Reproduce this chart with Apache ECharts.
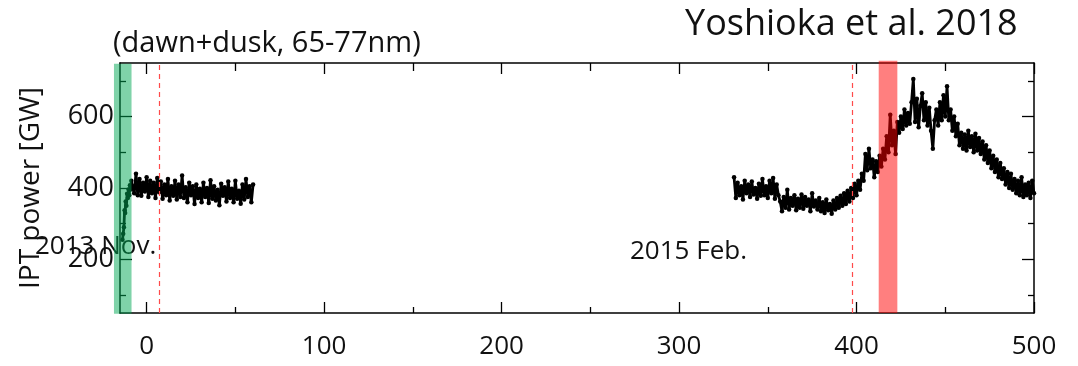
<!DOCTYPE html>
<html>
<head>
<meta charset="utf-8">
<script src="https://cdn.jsdelivr.net/npm/echarts@6/dist/echarts.min.js"></script>
<style>html,body{margin:0;padding:0;background:#fff;}#c{width:1078px;height:366px;}</style>
</head>
<body>
<div id="c"></div>
<script>
// ---- data ----
const xMajorTicks = [0, 100, 200, 300, 400, 500];
const xMinorTicks = [50, 150, 250, 350, 450];
const yMajorTicks = [200, 400, 600];
const yMinorTicks = [100, 300, 500, 700];

// early ramp inside the green band: [day, GW]
const rampDays = [-13.6, -13.2, -12.8, -12.4, -12.1, -11.8, -11.4, -11.0, -10.6, -10.2, -9.8, -9.4, -9.0, -8.6];
const rampVals = [255, 272, 290, 338, 330, 362, 350, 384, 372, 396, 380, 408, 396, 420];

// 2013 Nov. segment: one value per day starting at day -8
const segAStart = -8;
const segAVals = [405,385,440,380,425,378,415,390,430,375,420,385,415,372,428,388,418,370,410,380,
  425,365,405,378,420,368,410,375,435,372,402,360,415,380,405,355,410,372,398,360,
  415,375,400,358,422,370,405,365,395,352,412,378,402,362,418,372,398,360,420,370,
  392,356,410,368,425,375,405,360,410];

// 2015 segment: one value per day starting at day 331
const segBStart = 331;
const segBVals = [430,372,415,380,405,368,420,385,410,375,418,382,400,370,412,378,425,380,405,372,
  420,385,428,370,410,380,362,335,375,345,395,340,372,350,380,338,370,345,382,342,
  375,350,368,335,385,348,365,340,372,335,360,330,368,338,355,328,365,340,372,345,
  378,350,385,355,392,362,400,372,412,380,420,395,440,420,495,450,510,455,480,430,
  475,445,490,460,510,480,545,500,605,520,560,495,585,555,600,565,620,575,610,580,
  640,705,585,650,570,630,665,590,640,575,625,560,510,590,620,575,640,590,660,600,
  685,590,620,560,600,545,580,520,555,510,550,505,560,515,545,500,552,505,540,495,
  530,480,520,470,505,455,490,445,480,430,470,425,455,410,445,400,440,395,425,385,
  420,380,430,375,410,380,415,372,420,385];

// events
const dashedDays = [7.3, 397.5];
const bands = [
  // [from day, to day, bottom GW, top GW, colour]
  [-18.4, -8.5, 48, 748, 'rgba(0,168,84,0.5)'],
  [412.5, 423.0, 50, 756, 'rgba(255,0,0,0.5)']
];

// ---- build ----
function build(start, vals){ return vals.map((v,i)=>[start+i, v]); }
const lineA = rampDays.map((d,i)=>[d, rampVals[i]]).concat(build(segAStart, segAVals));
const lineB = build(segBStart, segBVals);

const FONT = 'Open Sans';
const chart = echarts.init(document.getElementById('c'), null, {renderer:'canvas'});

const frameLine = {show:true, onZero:false, lineStyle:{color:'#000', width:1.5}};
const noLine = {show:false, onZero:false};
function xAx(pos, ticks, len, labels, line){
  return {type:'value', min:-15, max:500, position:pos,
    axisLine: line ? frameLine : noLine,
    axisTick:{show:true, inside:true, length:len, customValues:ticks, lineStyle:{color:'#000', width:1.3}},
    axisLabel: labels ? {show:true, customValues:ticks, fontFamily:FONT, fontSize:26, color:'#111', margin:21} : {show:false},
    splitLine:{show:false}};
}
function yAx(pos, ticks, len, labels, line){
  return {type:'value', min:50, max:750, position:pos,
    axisLine: line ? frameLine : noLine,
    axisTick:{show:true, inside:true, length:len, customValues:ticks, lineStyle:{color:'#000', width:1.3}},
    axisLabel: labels ? {show:true, customValues:ticks, fontFamily:FONT, fontSize:27, color:'#111', margin:6} : {show:false},
    splitLine:{show:false}};
}

const dataLine = {type:'line', xAxisIndex:0, yAxisIndex:0, z:2, symbol:'circle', symbolSize:4.5, showSymbol:true,
  itemStyle:{color:'#000'}, lineStyle:{color:'#000', width:2.8}, silent:true};

chart.setOption({
  animation:false,
  backgroundColor:'#fff',
  grid:{left:120, right:44, top:63, bottom:53},
  xAxis:[
    xAx('bottom', xMajorTicks, 11, true, true),
    xAx('bottom', xMinorTicks, 6, false, false),
    xAx('top', xMajorTicks, 11, false, true),
    xAx('top', xMinorTicks, 8, false, false)
  ],
  yAxis:[
    yAx('left', yMajorTicks, 12, true, true),
    yAx('left', yMinorTicks, 6, false, false),
    yAx('right', yMajorTicks, 12, false, true),
    yAx('right', yMinorTicks, 6, false, false)
  ],
  graphic:[
    {type:'text', z:0, left:113, top:29, style:{text:'(dawn+dusk, 65-77nm)', font:'29px "Open Sans"', fill:'#111'}},
    {type:'text', z:0, left:685, top:7, style:{text:'Yoshioka et al. 2018', font:'36px "Open Sans"', fill:'#111'}},
    {type:'text', z:0, x:31, y:188, rotation:Math.PI/2, style:{text:'IPT power [GW]', font:'28px "Open Sans"', fill:'#111', align:'center', verticalAlign:'middle'}},
    {type:'text', z:0, x:35, y:247, style:{text:'2013 Nov.', font:'26px "Open Sans"', fill:'#111', verticalAlign:'middle'}},
    {type:'text', z:0, x:630, y:252, style:{text:'2015 Feb.', font:'26px "Open Sans"', fill:'#111', verticalAlign:'middle'}}
  ],
  series:[
    Object.assign({}, dataLine, {data:lineA}),
    Object.assign({}, dataLine, {data:lineB,
      markLine:{symbol:['none','none'], silent:true, label:{show:false},
        lineStyle:{color:'#ff4a4a', type:[5,4], width:1.2},
        data: dashedDays.map(d=>({xAxis:d}))}}),
    {type:'custom', xAxisIndex:0, yAxisIndex:0, z:5, clip:false, silent:true,
      data: bands.map(b=>[b[0], b[1], b[2], b[3]]),
      renderItem:function(params, api){
        const p0 = api.coord([api.value(0), api.value(3)]);
        const p1 = api.coord([api.value(1), api.value(2)]);
        return {type:'rect', shape:{x:p0[0], y:p0[1], width:p1[0]-p0[0], height:p1[1]-p0[1]},
          style:{fill: bands[params.dataIndex][4]}};
      }}
  ]
});
</script>
</body>
</html>
